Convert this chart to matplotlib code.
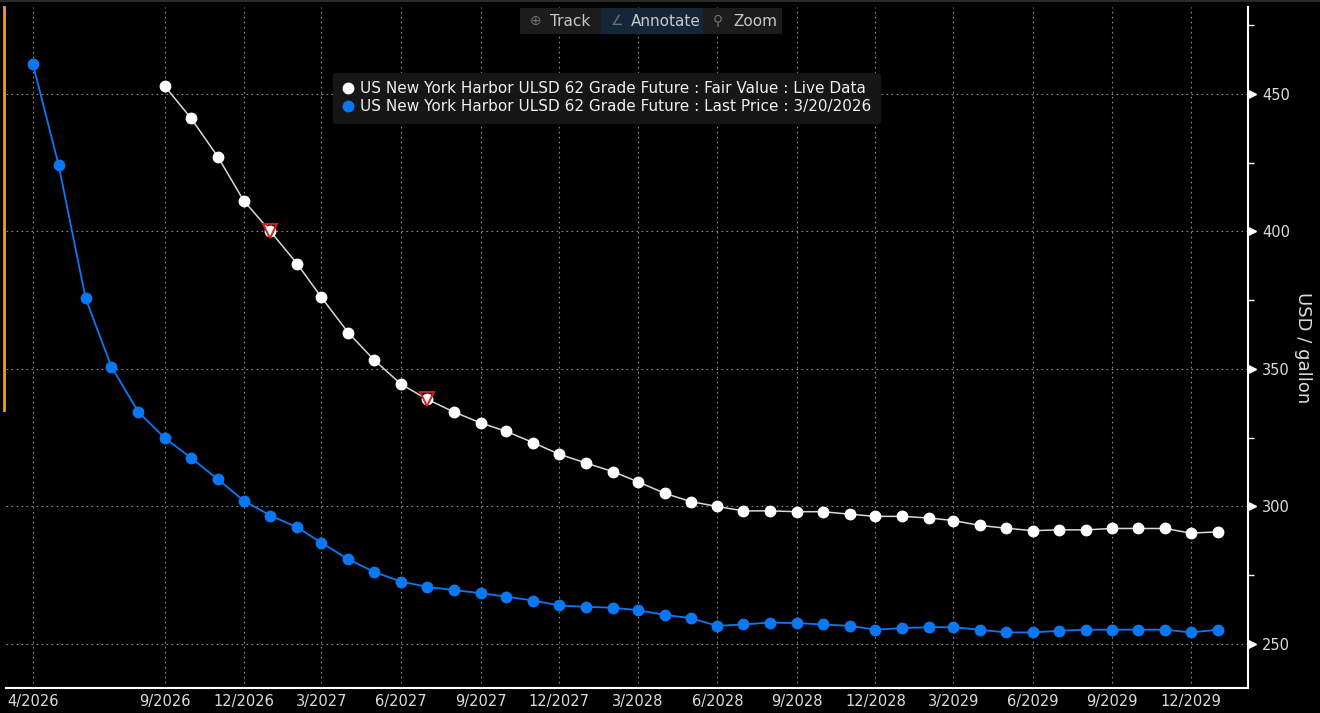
import datetime as dt
import matplotlib
matplotlib.use("Agg")
import matplotlib.pyplot as plt
import matplotlib.transforms as mtransforms
from matplotlib.patches import Rectangle
from matplotlib.lines import Line2D

# monthly contracts
def months(y, m, n):
    out = []
    for i in range(n):
        mm = m - 1 + i
        out.append(dt.date(y + mm // 12, mm % 12 + 1, 1))
    return out

last_dates = months(2026, 4, 46)
last_price = [461.0, 424.0, 375.8, 350.8, 334.4, 324.8, 317.7, 309.9, 302.1,
              296.7, 292.4, 286.8, 280.8, 276.2, 272.7, 270.8, 269.6, 268.5, 267.2, 265.8, 264.0,
              263.5, 263.2, 262.3, 260.6, 259.4, 256.6, 257.1, 257.8, 257.6, 257.1, 256.6, 255.2,
              255.8, 256.1, 256.1, 255.2, 254.2, 254.2, 254.8, 255.2, 255.2, 255.2, 255.2, 254.2,
              255.2]

fair_dates = months(2026, 9, 41)
fair_value = [452.7, 441.2, 427.2, 411.2,
              400.0, 388.2, 376.0, 363.2, 353.2, 344.5, 339.0, 334.4, 330.4, 327.3, 323.2, 319.0,
              315.8, 312.7, 309.0, 304.8, 301.8, 300.0, 298.4, 298.4, 298.1, 298.1, 297.2, 296.4,
              296.4, 295.8, 294.9, 293.1, 292.1, 291.2, 291.5, 291.5, 292.0, 292.0, 292.0, 290.3,
              290.8]

flag_dates = [dt.date(2027, 1, 1), dt.date(2027, 7, 1)]
flag_values = [400.0, 339.0]

tick_dates = [dt.date(2026, 4, 1)] + months(2026, 9, 14)[::3] + months(2027, 3, 34)[::3]
tick_dates = sorted(set(tick_dates))
tick_labels = [f"{d.month}/{d.year}" for d in tick_dates]

label_fair = "US New York Harbor ULSD 62 Grade Future : Fair Value : Live Data"
label_last = "US New York Harbor ULSD 62 Grade Future : Last Price : 3/20/2026"

plt.rcParams['font.family'] = ['DejaVu Sans']
W, H = 1320, 713
fig = plt.figure(figsize=(W / 100, H / 100), dpi=100, facecolor='black')
ax = fig.add_axes([6 / W, 1 - 688 / H, (1248 - 6) / W, (688 - 7) / H])
ax.set_facecolor('black')

blue = '#0a78f5'
ax.plot(last_dates, last_price, color=blue, lw=1.3, marker='o', ms=7.5, mec=blue, mfc=blue, zorder=3)
ax.plot(fair_dates, fair_value, color='#d8d8d8', lw=1.1, marker='o', ms=7.5, mec='white', mfc='white', zorder=3)
ax.plot(flag_dates, flag_values, ls='none', marker='v', ms=10, mfc='none', mec='#d42020', mew=1.4, zorder=4)

ax.set_xlim(dt.date(2026, 3, 1), dt.date(2030, 2, 5))
ax.set_ylim(234.0, 481.6)

ax.set_xticks(tick_dates)
ax.set_xticklabels(tick_labels)
ax.tick_params(axis='x', length=0, colors='#dcdcdc', labelsize=10.5, pad=4)

ax.yaxis.tick_right()
ax.yaxis.set_label_position('right')
ax.set_yticks([250, 300, 350, 400, 450])
ax.set_yticks([275, 325, 375, 425, 475], minor=True)
ax.tick_params(axis='y', which='major', length=0, colors='#dcdcdc', labelsize=10.5, pad=10)
ax.tick_params(axis='y', which='minor', length=4, width=1, color='white', direction='out')
ax.set_ylabel("USD / gallon", color='#dcdcdc', fontsize=13, rotation=270, labelpad=16)

# triangle major tick marks on the right spine
trans = mtransforms.blended_transform_factory(ax.transAxes, ax.transData)
ax.plot([1.003] * 5, [250, 300, 350, 400, 450], ls='none', marker='>', ms=6,
        color='white', transform=trans, clip_on=False, zorder=5)

ax.grid(True, color='#8a8a8a', lw=0.8, ls=(0, (1.5, 3)))
ax.set_axisbelow(True)
for s in ['top', 'left']:
    ax.spines[s].set_visible(False)
ax.spines['right'].set_color('white')
ax.spines['right'].set_linewidth(1.5)
ax.spines['bottom'].set_color('white')
ax.spines['bottom'].set_linewidth(1.5)

# legend
handles = [Line2D([], [], ls='none', marker='o', ms=7.5, color='white'),
           Line2D([], [], ls='none', marker='o', ms=7.5, color=blue)]
leg = fig.legend(handles, [label_fair, label_last], loc='upper left',
                 bbox_to_anchor=(333 / W, 1 - 73 / H), frameon=True, fontsize=11,
                 handlelength=0.8, handletextpad=0.45, labelspacing=0.2,
                 borderpad=0.55, borderaxespad=0)
leg.get_frame().set_facecolor('#161616')
leg.get_frame().set_edgecolor('#161616')
leg.get_frame().set_alpha(1)
for t in leg.get_texts():
    t.set_color('#f0f0f0')

# toolbar
segs = [(520, 601, '#1c1c1c', '⊕', 'Track'),
        (601, 703, '#152638', '∠', 'Annotate'),
        (703, 782, '#1c1c1c', '⚲', 'Zoom')]
for x0, x1, fc, icon, txt in segs:
    fig.patches.append(Rectangle((x0 / W, 1 - 34 / H), (x1 - x0) / W, 26 / H,
                                 transform=fig.transFigure, facecolor=fc, edgecolor='none'))
    fig.text((x0 + 10) / W, 1 - 21 / H, icon, color='#707070', fontsize=10,
             ha='left', va='center')
    fig.text((x0 + 30) / W, 1 - 21 / H, txt, color='#c8c8c8', fontsize=11,
             ha='left', va='center')

# orange marker bar on the left edge and thin top border
fig.add_artist(Line2D([3.5 / W, 3.5 / W], [1 - 7 / H, 1 - 410 / H], color='#f0a020', lw=2,
                      transform=fig.transFigure))
fig.add_artist(Line2D([0, 1], [1 - 1 / H, 1 - 1 / H], color='#2a2a2a', lw=1.5,
                      transform=fig.transFigure))

fig.savefig("out.png", dpi=100, facecolor='black')
